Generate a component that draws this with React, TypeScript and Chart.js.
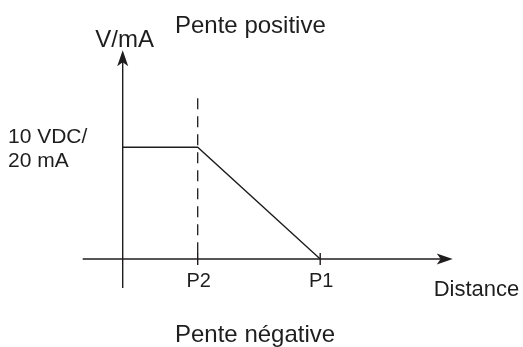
import React, { useEffect, useRef } from "react";
import { Chart, registerables } from "chart.js";

Chart.register(...registerables);

// Distance axis (abstract units, origin at the V/mA axis)
const distanceTicks = [3, 7.9];
const distanceTickLabels = ["P2", "P1"];
// Output curve (positive slope reference drawing)
const curveX = [0, 3, 7.9];
const curveY = [10, 10, 0];
// Level label
const levelValue = 10;
const levelLabel = ["10 VDC/", "20 mA"];
// Axis extents
const xAxisRange = [-1.6, 13.2];
const yAxisRange = [-2.6, 18.7];
const dashedTop = 14.4;
const tickHalf = 0.54;
// Texts
const yAxisTitle = "V/mA";
const xAxisTitle = "Distance";
const topTitle = "Pente positive";
const bottomTitle = "Pente négative";

const INK = "#1f1c1d";
const TEXT = "#1e1e1e";
const FONT = "'Liberation Sans', Arial, Helvetica, sans-serif";

function drawArrow(ctx: CanvasRenderingContext2D, x: number, y: number, angle: number) {
  const len = 16;
  const half = 5.5;
  const notch = 4;
  ctx.save();
  ctx.translate(x, y);
  ctx.rotate(angle);
  ctx.beginPath();
  ctx.moveTo(0, 0);
  ctx.lineTo(-len, -half);
  ctx.lineTo(-len + notch, 0);
  ctx.lineTo(-len, half);
  ctx.closePath();
  ctx.fillStyle = INK;
  ctx.fill();
  ctx.restore();
}

const overlay = {
  id: "overlay",
  afterDatasetsDraw(chart: any) {
    const { ctx } = chart;
    const xs = chart.scales.x;
    const ys = chart.scales.y;
    const px = (v: number) => xs.getPixelForValue(v);
    const py = (v: number) => ys.getPixelForValue(v);

    drawArrow(ctx, px(xAxisRange[1]), py(0), 0);
    drawArrow(ctx, px(0), py(yAxisRange[1]), -Math.PI / 2);

    ctx.save();
    ctx.fillStyle = TEXT;
    ctx.textBaseline = "alphabetic";

    // y axis title
    ctx.font = `24px ${FONT}`;
    ctx.textAlign = "center";
    ctx.fillText(yAxisTitle, px(0) + 2, py(yAxisRange[1]) - 3);

    // top title
    ctx.font = `24px ${FONT}`;
    ctx.textAlign = "left";
    ctx.fillText(topTitle, 175, 33);

    // level labels
    ctx.font = `21px ${FONT}`;
    ctx.textAlign = "left";
    const ly = py(levelValue);
    ctx.fillText(levelLabel[0], 8, ly - 4);
    ctx.fillText(levelLabel[1], 8, ly + 20);

    // tick labels
    ctx.font = `20px ${FONT}`;
    ctx.textAlign = "center";
    distanceTicks.forEach((t, i) => {
      ctx.fillText(distanceTickLabels[i], px(t) + 1, py(0) + 28);
    });

    // x axis title
    ctx.font = `22px ${FONT}`;
    ctx.textAlign = "left";
    ctx.fillText(xAxisTitle, px(xAxisRange[1]) - 19, py(0) + 37);

    // bottom title
    ctx.font = `24px ${FONT}`;
    ctx.textAlign = "left";
    ctx.fillText(bottomTitle, 175, 342);
    ctx.restore();
  },
};

export default function App() {
  const ref = useRef<HTMLCanvasElement | null>(null);

  useEffect(() => {
    document.body.style.margin = "0";
    const canvas = ref.current;
    if (!canvas) return;

    const lineBase = {
      borderColor: INK,
      borderWidth: 1.4,
      pointRadius: 0,
      pointHoverRadius: 0,
      fill: false,
      tension: 0,
    };

    const datasets: any[] = [
      {
        ...lineBase,
        label: "x-axis",
        data: [
          { x: xAxisRange[0], y: 0 },
          { x: xAxisRange[1] - 8 / 25, y: 0 },
        ],
      },
      {
        ...lineBase,
        label: "y-axis",
        data: [
          { x: 0, y: yAxisRange[0] },
          { x: 0, y: yAxisRange[1] - 0.7 },
        ],
      },
      {
        ...lineBase,
        label: "curve",
        data: curveX.map((x, i) => ({ x, y: curveY[i] })),
      },
      {
        ...lineBase,
        label: "P2 marker",
        borderWidth: 1.3,
        borderDash: [11, 7],
        data: [
          { x: distanceTicks[0], y: dashedTop },
          { x: distanceTicks[0], y: 0 },
        ],
      },
      ...distanceTicks.map((t) => ({
        ...lineBase,
        label: "tick",
        data: [
          { x: t, y: -tickHalf },
          { x: t, y: tickHalf },
        ],
      })),
    ];

    const chart = new Chart(canvas, {
      type: "line",
      data: { datasets },
      options: {
        responsive: false,
        animation: false,
        devicePixelRatio: 1,
        layout: { padding: 0 },
        plugins: {
          legend: { display: false },
          tooltip: { enabled: false },
          title: { display: false },
        },
        events: [],
        scales: {
          x: { type: "linear", min: -4.908, max: 16.012, display: false },
          y: { type: "linear", min: -7.88, max: 23.19, display: false },
        },
      },
      plugins: [overlay],
    });

    return () => chart.destroy();
  }, []);

  return (
    <div style={{ position: "fixed", left: 0, top: 0, width: 523, height: 347, background: "#fff" }}>
      <canvas ref={ref} width={523} height={347} style={{ display: "block" }} />
    </div>
  );
}
